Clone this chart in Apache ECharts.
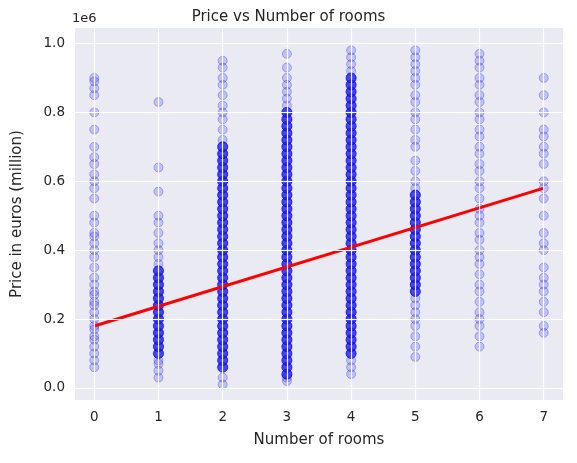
<!DOCTYPE html>
<html>
<head>
<meta charset="utf-8">
<script src="https://cdn.jsdelivr.net/npm/echarts@6/dist/echarts.min.js"></script>
<style>html,body{margin:0;padding:0;background:#fff}#main{width:577px;height:463px}</style>
</head>
<body>
<div id="main"></div>
<script>
// rooms shown on the x axis
var rooms = [0, 1, 2, 3, 4, 5, 6, 7];
var xTicks = [0, 1, 2, 3, 4, 5, 6, 7];
var yTicks = [0, 0.2, 0.4, 0.6, 0.8, 1.0];

// prices (million), dense bands per room count
var dense1 = [0.10,0.12,0.14,0.16,0.18,0.20,0.22,0.24,0.26,0.28,0.30,0.32,0.34];
var dense2 = [0.06,0.08,0.10,0.12,0.14,0.16,0.18,0.20,0.22,0.24,0.26,0.28,0.30,0.32,0.34,0.36,0.38,0.40,0.42,0.44,0.46,0.48,0.50,0.52,0.54,0.56,0.58,0.60,0.62,0.64,0.66,0.68,0.70];
var dense3 = [0.04,0.06,0.08,0.10,0.12,0.14,0.16,0.18,0.20,0.22,0.24,0.26,0.28,0.30,0.32,0.34,0.36,0.38,0.40,0.42,0.44,0.46,0.48,0.50,0.52,0.54,0.56,0.58,0.60,0.62,0.64,0.66,0.68,0.70,0.72,0.74,0.76,0.78,0.80];
var dense4 = [0.10,0.12,0.14,0.16,0.18,0.20,0.22,0.24,0.26,0.28,0.30,0.32,0.34,0.36,0.38,0.40,0.42,0.44,0.46,0.48,0.50,0.52,0.54,0.56,0.58,0.60,0.62,0.64,0.66,0.68,0.70,0.72,0.74,0.76,0.78,0.80,0.82,0.84,0.86,0.88,0.90];
var dense5 = [0.28,0.30,0.32,0.34,0.36,0.38,0.40,0.42,0.44,0.46,0.48,0.50,0.52,0.54,0.56];

// scattered prices per room count
var sparse0 = [0.06,0.08,0.10,0.12,0.14,0.15,0.17,0.18,0.20,0.22,0.24,0.25,0.27,0.28,0.30,0.32,0.35,0.38,0.40,0.42,0.44,0.45,0.48,0.50,0.55,0.58,0.60,0.62,0.65,0.67,0.70,0.75,0.80,0.85,0.87,0.89,0.90];
var sparse1 = [0.03,0.05,0.07,0.08,0.36,0.38,0.40,0.42,0.45,0.48,0.50,0.57,0.64,0.83];
var sparse2 = [0.01,0.03,0.72,0.75,0.78,0.80,0.82,0.85,0.88,0.90,0.93,0.95];
var sparse3 = [0.02,0.03,0.82,0.84,0.86,0.88,0.90,0.93,0.97];
var sparse4 = [0.04,0.06,0.08,0.92,0.94,0.96,0.98];
var sparse5 = [0.09,0.12,0.15,0.18,0.20,0.22,0.24,0.26,0.58,0.60,0.63,0.66,0.70,0.72,0.75,0.78,0.80,0.83,0.85,0.88,0.90,0.92,0.94,0.96,0.98];
var sparse6 = [0.12,0.15,0.18,0.20,0.22,0.25,0.28,0.30,0.33,0.36,0.38,0.40,0.43,0.45,0.48,0.50,0.52,0.55,0.58,0.60,0.63,0.65,0.68,0.70,0.73,0.75,0.78,0.80,0.83,0.85,0.88,0.90,0.93,0.95,0.97];
var sparse7 = [0.16,0.18,0.22,0.25,0.28,0.30,0.32,0.35,0.40,0.42,0.45,0.50,0.55,0.58,0.60,0.65,0.68,0.70,0.73,0.75,0.80,0.85,0.90];

// fitted regression line end points
var fitX = [0, 7];
var fitY = [0.18, 0.58];

var denseLists = [[], dense1, dense2, dense3, dense4, dense5, [], []];
var sparseLists = [sparse0, sparse1, sparse2, sparse3, sparse4, sparse5, sparse6, sparse7];

function toPairs(lists) {
    var out = [];
    rooms.forEach(function (r, i) {
        lists[i].forEach(function (v) { out.push([r, v]); });
    });
    return out;
}

var gridLines = [];
xTicks.forEach(function (v) { gridLines.push({ xAxis: v }); });
yTicks.forEach(function (v) { gridLines.push({ yAxis: v }); });

var font = 'DejaVu Sans';
var myChart = echarts.init(document.getElementById('main'));
var option = {
    backgroundColor: '#fff',
    animation: false,
    title: {
        text: 'Price vs Number of rooms', left: 'center', top: 5,
        textStyle: { fontFamily: font, fontSize: 15, fontWeight: 'normal', color: '#262626' }
    },
    graphic: [{ type: 'text', left: 72, top: 12, style: { text: '1e6', font: '13px DejaVu Sans', fill: '#262626' } }],
    grid: { left: 75, right: 14, top: 28, bottom: 63, show: true, backgroundColor: '#eaeaf2', borderWidth: 0 },
    xAxis: {
        type: 'value', min: -0.3, max: 7.3,
        name: 'Number of rooms', nameLocation: 'middle', nameGap: 33,
        nameTextStyle: { fontFamily: font, fontSize: 15, color: '#262626' },
        axisLine: { show: false }, axisTick: { show: false }, splitLine: { show: false },
        axisLabel: { customValues: xTicks, fontFamily: font, fontSize: 13.5, color: '#262626', margin: 10 }
    },
    yAxis: {
        type: 'value', min: -0.035, max: 1.045,
        name: 'Price in euros (million)', nameLocation: 'middle', nameGap: 50,
        nameTextStyle: { fontFamily: font, fontSize: 15, color: '#262626' },
        axisLine: { show: false }, axisTick: { show: false }, splitLine: { show: false },
        axisLabel: { customValues: yTicks, fontFamily: font, fontSize: 13.5, color: '#262626', margin: 10,
            formatter: function (v) { return v.toFixed(1); } }
    },
    series: [
        {
            type: 'line', data: [], z: 1, silent: true,
            markLine: { silent: true, symbol: 'none', label: { show: false },
                lineStyle: { color: '#fff', type: 'solid', width: 1.2 }, data: gridLines }
        },
        {
            type: 'scatter', data: toPairs(sparseLists), symbolSize: 9, z: 2,
            itemStyle: { color: 'rgba(0,0,255,0.22)', borderColor: 'rgba(0,0,255,0.35)', borderWidth: 1 }
        },
        {
            type: 'scatter', data: toPairs(denseLists), symbolSize: 10, z: 3,
            itemStyle: { color: '#1a1aff', borderColor: '#0000ff', borderWidth: 1 }
        },
        {
            type: 'line', data: fitX.map(function (x, i) { return [x, fitY[i]]; }), z: 4,
            symbol: 'none', lineStyle: { color: '#ff0000', width: 3 }
        }
    ]
};
myChart.setOption(option);
</script>
</body>
</html>
